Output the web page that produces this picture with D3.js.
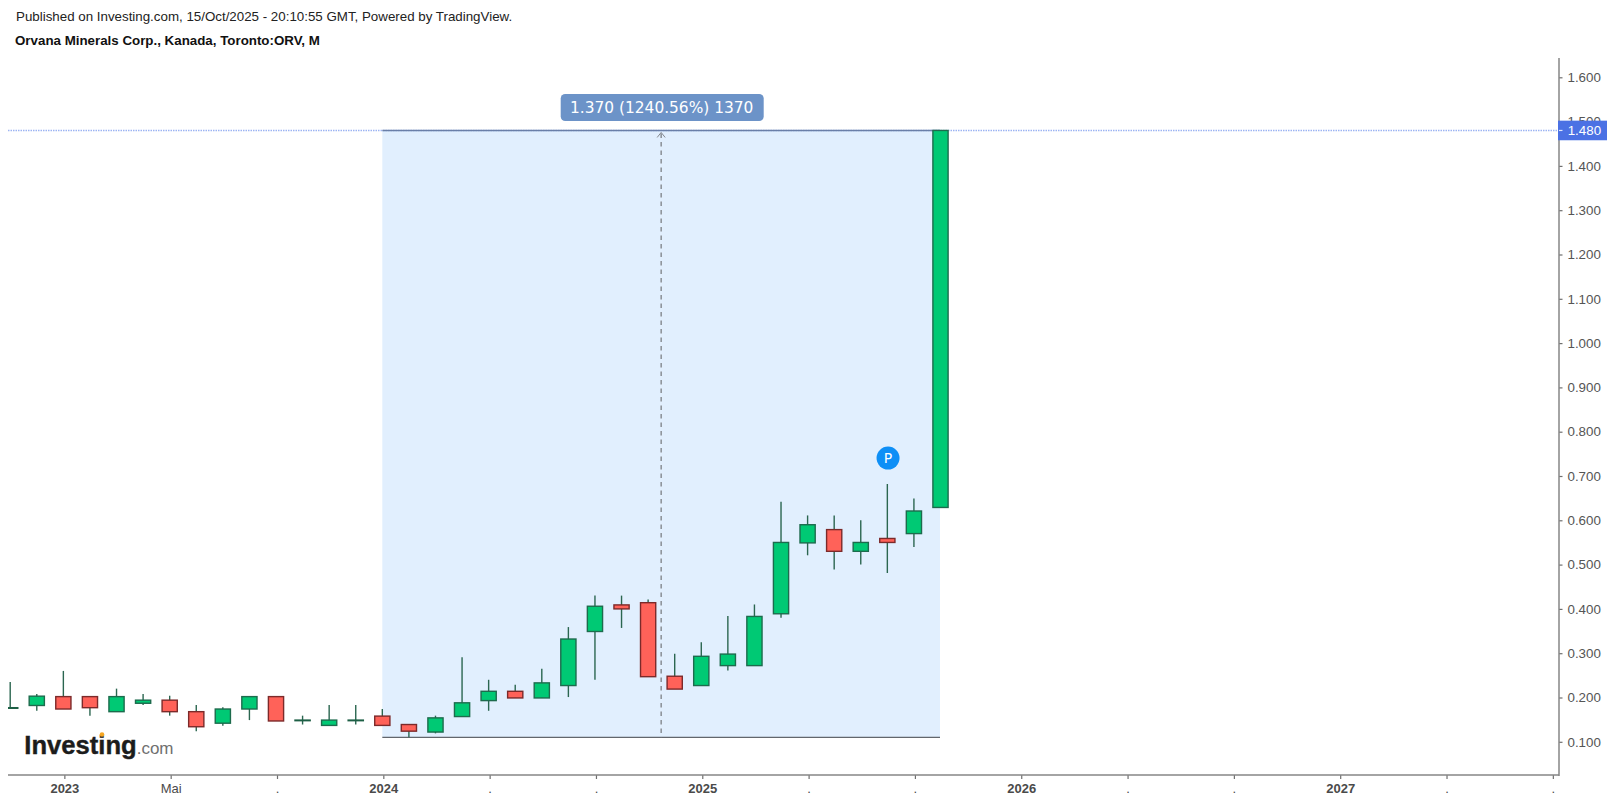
<!DOCTYPE html>
<html><head><meta charset="utf-8">
<script src="https://cdn.jsdelivr.net/npm/d3@7/dist/d3.min.js"></script>
<style>html,body{margin:0;padding:0;background:#fff;overflow:hidden}svg{display:block}text{font-family:"Liberation Sans",Arial,sans-serif}</style>
</head><body><svg id="c" width="1614" height="803"></svg>
<script>
const months=["2022-11","2022-12","2023-01","2023-02","2023-03","2023-04","2023-05","2023-06","2023-07","2023-08","2023-09","2023-10","2023-11","2023-12","2024-01","2024-02","2024-03","2024-04","2024-05","2024-06","2024-07","2024-08","2024-09","2024-10","2024-11","2024-12","2025-01","2025-02","2025-03","2025-04","2025-05","2025-06","2025-07","2025-08","2025-09","2025-10"];
const open =[.177,.182,.202,.202,.168,.187,.194,.168,.142,.174,.202,.149,.137,.149,.158,.139,.122,.157,.193,.214,.199,.227,.349,.409,.414,.248,.227,.272,.272,.389,.549,.579,.530,.559,.570,.629];
const high =[.235,.208,.260,.202,.220,.208,.204,.183,.178,.202,.202,.159,.183,.183,.174,.139,.159,.291,.240,.229,.265,.359,.430,.430,.421,.299,.325,.384,.410,.642,.611,.611,.600,.682,.649,1.48];
const low  =[.177,.170,.174,.159,.168,.183,.159,.124,.136,.149,.147,.139,.137,.139,.137,.110,.119,.157,.170,.199,.199,.201,.240,.357,.247,.219,.227,.261,.272,.380,.521,.489,.500,.481,.540,.629];
const close=[.177,.203,.174,.177,.202,.194,.168,.134,.174,.202,.147,.149,.149,.149,.137,.124,.154,.188,.214,.199,.233,.332,.406,.400,.247,.219,.293,.298,.383,.550,.590,.530,.550,.550,.621,1.48];
const priceTicks=[.1,.2,.3,.4,.5,.6,.7,.8,.9,1,1.1,1.2,1.3,1.4,1.5,1.6];
const timeTickIndex=[2,6,10,14,18,22,26,30,34,38,42,46,50,54,58];
const timeTickLabels=["2023","Mai",".","2024",".",".","2025",".",".","2026",".",".","2027",".","."];
const headerLine="Published on Investing.com, 15/Oct/2025 - 20:10:55 GMT, Powered by TradingView.";
const titleLine="Orvana Minerals Corp., Kanada, Toronto:ORV, M";
const lastPrice=1.48, rangeLow=0.11, rangeStartIndex=14, rangeEndIndex=35;
const rangeLabel="1.370 (1240.56%) 1370", lastLabel="1.480", markerIndex=33, markerPrice=0.7406;

const svg=d3.select("#c");
const x=d3.scaleLinear().domain([0,35]).range([10.2,940.5]);
const y=d3.scaleLinear().domain([.1,1.6]).range([741.8,77.3]);
const axisX=1559, axisY=775, leftX=8, topY=58;
const defs=svg.append("defs");
defs.append("clipPath").attr("id","plot").append("rect").attr("x",leftX).attr("y",topY).attr("width",axisX-leftX).attr("height",axisY-topY);

// header
svg.append("text").attr("x",16).attr("y",21).attr("font-size",13.33).attr("fill","#222").text(headerLine);
svg.append("text").attr("x",15).attr("y",45).attr("font-size",13.33).attr("font-weight","bold").attr("fill","#111").text(titleLine);

// range box
const bx0=x(rangeStartIndex), bx1=x(rangeEndIndex)-.5, by0=y(lastPrice), by1=y(rangeLow), mid=(bx0+bx1)/2;
svg.append("rect").attr("x",bx0).attr("y",by0).attr("width",bx1-bx0).attr("height",by1-by0).attr("fill","#e1effe");
svg.append("line").attr("x1",leftX).attr("x2",axisX).attr("y1",by0).attr("y2",by0).attr("stroke","#9db4f2").attr("stroke-width",1.5).attr("stroke-dasharray","1.5 1");
svg.append("line").attr("x1",bx0).attr("x2",bx1).attr("y1",by0).attr("y2",by0).attr("stroke","#6a7fa8").attr("stroke-width",1.4);
svg.append("line").attr("x1",bx0).attr("x2",bx1).attr("y1",by1).attr("y2",by1).attr("stroke","#62666c").attr("stroke-width",1.2);
svg.append("line").attr("x1",mid).attr("x2",mid).attr("y1",by0+3).attr("y2",by1).attr("stroke","#84888e").attr("stroke-width",1.4).attr("stroke-dasharray","4.5 4");
svg.append("path").attr("d",`M${mid-4},${by0+7}L${mid},${by0+2}L${mid+4},${by0+7}`).attr("fill","none").attr("stroke","#84888e").attr("stroke-width",1);

// candles
const idx=d3.range(months.length);
const g=svg.append("g").attr("clip-path","url(#plot)");
const up=i=>close[i]>open[i];
const isDoji=i=>Math.abs(close[i]-open[i])<.002;
g.selectAll("line.w").data(idx).join("line").attr("class","w")
 .attr("x1",x).attr("x2",x).attr("y1",i=>y(high[i])).attr("y2",i=>y(low[i]))
 .attr("stroke","#2b6650").attr("stroke-width",1.4);
g.selectAll("rect.b").data(idx).join("rect").attr("class","b")
 .attr("x",i=>x(i)-7.6).attr("width",15.2)
 .attr("y",i=>y(Math.max(open[i],close[i])))
 .attr("height",i=>Math.max(.6,Math.abs(y(open[i])-y(close[i]))))
 .attr("fill",i=>up(i)?"#00c974":"#ff6259")
 .attr("stroke",i=>isDoji(i)?"#1d5f45":(up(i)?"#1d6b4d":"#7c2a2a"))
 .attr("stroke-width",1.4);

// axes
const fmt=d3.format(".3f");
const ya=d3.axisRight(y).tickValues(priceTicks).tickFormat(fmt).tickSize(3.5).tickPadding(5);
const yg=svg.append("g").attr("transform",`translate(${axisX},0)`).call(ya);
yg.select(".domain").remove();
yg.selectAll("line").attr("stroke","#6f6f6f").attr("stroke-width",1.2);
yg.selectAll("text").attr("font-size",13.33).attr("fill","#555").style("font-family",'"Liberation Sans"');
svg.append("line").attr("x1",axisX).attr("x2",axisX).attr("y1",topY).attr("y2",axisY+1).attr("stroke","#868686").attr("stroke-width",1.5);

const tickMap=new Map(timeTickIndex.map((t,i)=>[t,timeTickLabels[i]]));
const xa=d3.axisBottom(x).tickValues(timeTickIndex).tickFormat(t=>tickMap.get(t)).tickSize(4).tickPadding(5);
const xg=svg.append("g").attr("transform",`translate(1,${axisY})`).call(xa);
xg.select(".domain").remove();
xg.selectAll("line").attr("stroke","#6f6f6f").attr("stroke-width",1.2);
xg.selectAll("text").attr("font-size",13).attr("fill","#4a4a4a").style("font-family",'"Liberation Sans"')
  .attr("font-weight",t=>/^\d/.test(tickMap.get(t))?"bold":"normal");
svg.append("line").attr("x1",leftX).attr("x2",axisX).attr("y1",axisY).attr("y2",axisY).attr("stroke","#868686").attr("stroke-width",1.5);

// last price label
svg.append("rect").attr("x",axisX-1).attr("y",y(lastPrice)-9.8).attr("width",1607-axisX+1).attr("height",19.6).attr("fill","#4b71e4");
svg.append("line").attr("x1",axisX).attr("x2",axisX+3.5).attr("y1",y(lastPrice)).attr("y2",y(lastPrice)).attr("stroke","#dfe6fb").attr("stroke-width",1.2);
svg.append("text").attr("x",axisX+8.7).attr("y",y(lastPrice)+4.8).attr("font-size",13.33).attr("fill","#fff").text(lastLabel);

// range label
svg.append("rect").attr("x",560.7).attr("y",94).attr("width",203).attr("height",27).attr("rx",4.5).attr("fill","#6c93c8");
svg.append("text").attr("x",661.7).attr("y",112.7).attr("text-anchor","middle").attr("font-size",15.4)
  .style("font-family",'"DejaVu Sans"').attr("fill","#fff").text(rangeLabel);

// marker
const mx=x(markerIndex)+.7,my=y(markerPrice);
svg.append("circle").attr("cx",mx).attr("cy",my).attr("r",11.5).attr("fill","#0e8ff6");
svg.append("text").attr("x",mx).attr("y",my+4.6).attr("text-anchor","middle").attr("font-size",14)
  .style("font-family",'"DejaVu Sans"').attr("fill","#fff").text("P");

// logo
const logo=svg.append("text").attr("x",24.3).attr("y",754);
logo.append("tspan").attr("font-size",25.6).attr("font-weight","bold").attr("fill","#1c1c1c").attr("stroke","#1c1c1c").attr("stroke-width",.4).text("Investing");
logo.append("tspan").attr("font-size",17).attr("fill","#707070").text(".com");
svg.append("circle").attr("cx",102).attr("cy",734.5).attr("r",2.3).attr("fill","#f5a623");
</script></body></html>
